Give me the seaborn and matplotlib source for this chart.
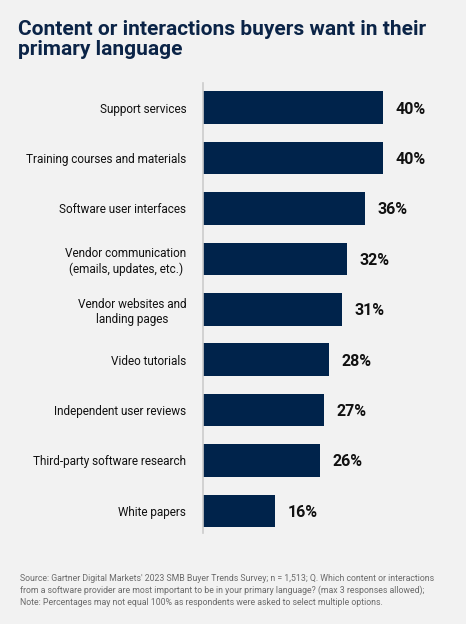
import matplotlib.pyplot as plt
import seaborn as sns
import pandas as pd

sns.set_theme(style="white")
plt.rcParams['font.family'] = ['Roboto', 'DejaVu Sans']

# Data
categories = [
    "Support services",
    "Training courses and materials",
    "Software user interfaces",
    "Vendor communication\n(emails, updates, etc.)",
    "Vendor websites and\nlanding pages",
    "Video tutorials",
    "Independent user reviews",
    "Third-party software research",
    "White papers",
]
shares = [40, 40, 36, 32, 31, 28, 27, 26, 16]

df = pd.DataFrame({"Item": categories, "Share": shares})

bg = "#f2f2f2"
navy = "#00234b"

fig = plt.figure(figsize=(4.66, 6.24), dpi=100, facecolor=bg)
ax = fig.add_axes([0.4356, 0.1458, 0.4828, 0.7212], facecolor=bg)

sns.barplot(data=df, x="Share", y="Item", color=navy, width=0.645,
            saturation=1, linewidth=0, ax=ax)

# value labels
for p, v in zip(ax.patches, shares):
    ax.annotate(f"{v}%", (p.get_width(), p.get_y() + p.get_height() / 2),
                xytext=(9, -1), textcoords="offset points",
                ha="left", va="center", fontsize=11.5, fontweight="bold",
                color="#111111")

ax.set_xlim(0, 50)
ax.set_ylim(8.44, -0.49)
ax.set_xlabel("")
ax.set_ylabel("")
ax.set_xticks([])
for s in ["top", "right", "bottom"]:
    ax.spines[s].set_visible(False)
ax.spines["left"].set_color("#cccccc")
ax.spines["left"].set_linewidth(1.2)
ax.tick_params(axis="y", length=0, pad=12, labelsize=8.5, labelcolor="#111111")
for lbl in ax.get_yticklabels():
    lbl.set_multialignment("center")

fig.text(0.039, 0.968, "Content or interactions buyers want in their\nprimary language",
         ha="left", va="top", fontsize=15, fontweight="bold",
         color="#0b2447", linespacing=1.05)

fig.text(0.043, 0.08,
         "Source: Gartner Digital Markets' 2023 SMB Buyer Trends Survey; n = 1,513; Q. Which content or interactions\n"
         "from a software provider are most important to be in your primary language? (max 3 responses allowed);\n"
         "Note: Percentages may not equal 100% as respondents were asked to select multiple options.",
         ha="left", va="top", fontsize=6.3, color="#6b6b6b", linespacing=1.35)

plt.savefig("out.png", dpi=100, facecolor=bg)
